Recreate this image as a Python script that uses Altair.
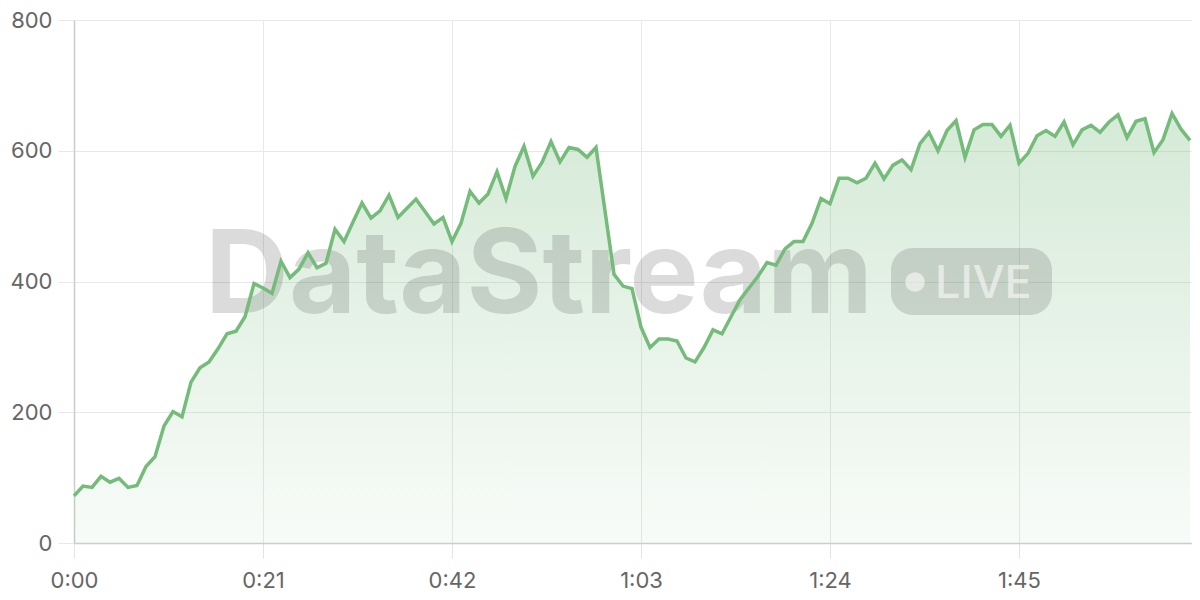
import altair as alt
import pandas as pd

# seconds since start
seconds = list(range(0, 125))
values = [
    72, 87, 85, 102, 93, 99, 85, 88, 117, 132,
    179, 201, 193, 246, 268, 277, 297, 320, 324, 346,
    397, 390, 382, 431, 406, 419, 444, 421, 428, 480,
    461, 491, 520, 497, 508, 532, 498, 512, 526, 507,
    488, 498, 461, 489, 538, 520, 534, 568, 527, 576,
    607, 561, 582, 614, 583, 605, 602, 590, 605, 508,
    411, 393, 389, 330, 299, 312, 312, 309, 283, 277,
    299, 326, 320, 346, 372, 390, 408, 429, 425, 450,
    461, 461, 489, 527, 519, 558, 558, 551, 558, 581,
    557, 578, 586, 571, 611, 628, 600, 631, 646, 590,
    632, 640, 640, 622, 639, 581, 596, 623, 631, 622,
    644, 609, 632, 639, 628, 644, 655, 620, 645, 649,
    597, 617, 657, 633, 616,
]
x_ticks = [0, 21, 42, 63, 84, 105]
x_tick_labels = ["0:00", "0:21", "0:42", "1:03", "1:24", "1:45"]
y_ticks = [0, 200, 400, 600, 800]

df = pd.DataFrame({"t": seconds, "v": values})

label_expr = " : ".join(
    f"datum.value == {v} ? '{l}'" for v, l in zip(x_ticks, x_tick_labels)
) + " : ''"

FONT = "Inter"
GREEN = "#75bb7a"

x_enc = alt.X(
    "t:Q",
    scale=alt.Scale(domain=[0, 124.22], nice=False, zero=False),
    axis=alt.Axis(
        values=x_ticks, labelExpr=label_expr, title=None, labelFlush=False,
        grid=True, gridColor="#e8e8e8", domainColor="#cccccc", domainWidth=1.5,
        tickColor="#e3e3e3", tickSize=15, labelPadding=12,
        labelFontSize=22, labelColor="#666666", labelFont=FONT,
    ),
)
y_enc = alt.Y(
    "v:Q",
    scale=alt.Scale(domain=[0, 800], nice=False),
    axis=alt.Axis(
        values=y_ticks, title=None, labelFlush=False,
        grid=True, gridColor="#e8e8e8", domainColor="#cccccc", domainWidth=1.5,
        tickColor="#e8e8e8", tickSize=16, labelPadding=6,
        labelFontSize=22, labelColor="#666666", labelFont=FONT,
    ),
)

base = alt.Chart(df)

area = base.mark_area(
    color=alt.Gradient(
        gradient="linear",
        stops=[
            alt.GradientStop(color="rgba(116,185,122,0.05)", offset=0),
            alt.GradientStop(color="rgba(116,185,122,0.30)", offset=1),
        ],
        x1=1, x2=1, y1=1, y2=0,
    )
).encode(x=x_enc, y=y_enc)

line = base.mark_line(color=GREEN, strokeWidth=3.5, strokeJoin="miter").encode(x=x_enc, y=y_enc)

wm_text = alt.Chart(pd.DataFrame({"s": ["DataStream"]})).mark_text(
    font=FONT, fontWeight="bold", fontSize=116, color="#333333", opacity=0.17,
    align="center", baseline="alphabetic",
).encode(x=alt.value(465), y=alt.value(293), text="s:N")

badge = alt.Chart(pd.DataFrame({"s": ["badge"]})).mark_rect(
    color="#333333", opacity=0.17, cornerRadius=22,
).encode(x=alt.value(817), x2=alt.value(978), y=alt.value(228), y2=alt.value(295))

dot = alt.Chart(pd.DataFrame({"s": ["dot"]})).mark_point(
    filled=True, shape="circle", size=380, color="#ffffff", opacity=0.55,
).encode(x=alt.value(841), y=alt.value(262))

live = alt.Chart(pd.DataFrame({"s": ["LIVE"]})).mark_text(
    font=FONT, fontWeight=500, fontSize=45, color="#ffffff", opacity=0.55,
    align="left", baseline="alphabetic",
).encode(x=alt.value(861), y=alt.value(278), text="s:N")

chart = alt.layer(area, wm_text, badge, dot, live, line).properties(
    width=1118, height=523,
    padding={"left": 66, "top": 12, "right": 0, "bottom": 48},
    autosize=alt.AutoSizeParams(type="none"),
).configure_view(stroke=None).configure(background="#ffffff")

chart.save("out.html", embed_options={"renderer": "svg", "actions": False})
